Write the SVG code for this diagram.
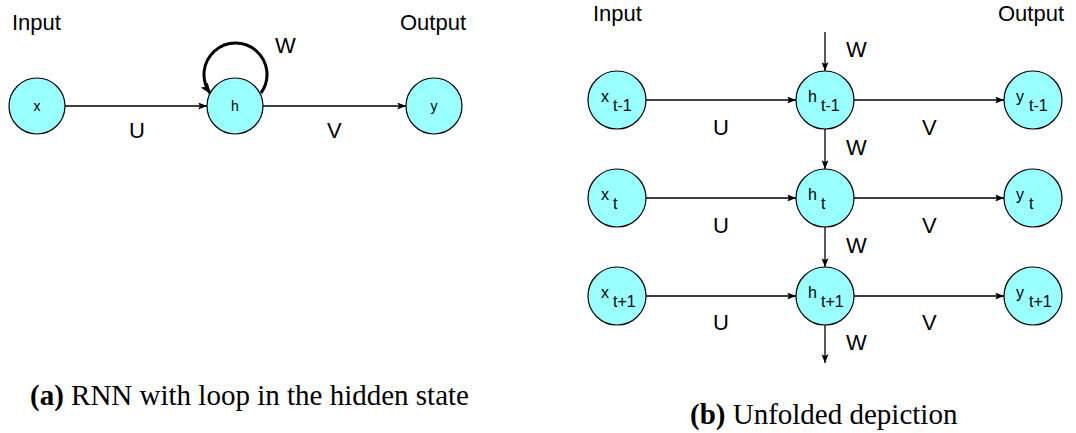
<svg xmlns="http://www.w3.org/2000/svg" width="1076" height="433" viewBox="0 0 1076 433">
<style>
.node{fill:#99ffff;stroke:#000;stroke-width:1.2}
.lbl{font-family:"Liberation Sans",Arial,sans-serif;font-size:22px;fill:#000}
.nl{font-family:"Liberation Sans",Arial,sans-serif;font-size:14px;fill:#000}
.ns{font-family:"Liberation Sans",Arial,sans-serif;font-size:16px;fill:#000}
.edge{stroke:#000;stroke-width:1.3;fill:none;marker-end:url(#ah)}
.cap{font-family:"Liberation Serif","Times New Roman",serif;font-size:29px;fill:#000}
</style>
<defs>
<marker id="ah" viewBox="0 0 10 8" refX="10" refY="4" markerWidth="9" markerHeight="7" markerUnits="userSpaceOnUse" orient="auto">
<path d="M0,0 L10,4 L0,8 L2,4 Z" fill="#000"/>
</marker>
<marker id="ahb" viewBox="0 0 10 8" refX="9" refY="4" markerWidth="11" markerHeight="9" markerUnits="userSpaceOnUse" orient="auto">
<path d="M0,0 L10,4 L0,8 L2,4 Z" fill="#000"/>
</marker>
</defs>

<!-- Left diagram -->
<g id="connectors-a">
<line class="edge" x1="65" y1="106" x2="207" y2="106"/>
<line class="edge" x1="263" y1="106" x2="406" y2="106"/>
<path d="M261,93 A31.5,31.5 0 1 0 210,93" fill="none" stroke="#000" stroke-width="3" marker-end="url(#ahb)"/>
</g>
<g id="node-x"><circle class="node" cx="37" cy="106" r="28"/><text class="nl" x="37" y="111" text-anchor="middle">x</text></g>
<g id="node-h"><circle class="node" cx="235" cy="106" r="28"/><text class="nl" x="235" y="111" text-anchor="middle">h</text></g>
<g id="node-y"><circle class="node" cx="434" cy="106" r="28"/><text class="nl" x="434" y="111" text-anchor="middle">y</text></g>
<g id="labels-a">
<text class="lbl" x="12" y="30">Input</text>
<text class="lbl" x="400" y="30">Output</text>
<text class="lbl" x="275" y="53">W</text>
<text class="lbl" x="129" y="138">U</text>
<text class="lbl" x="327" y="138">V</text>
</g>

<!-- Right diagram -->
<g id="connectors-b">
<line class="edge" x1="825" y1="32" x2="825" y2="71"/>
<line class="edge" x1="825" y1="129" x2="825" y2="169"/>
<line class="edge" x1="825" y1="227" x2="825" y2="267"/>
<line class="edge" x1="825" y1="325" x2="825" y2="363"/>
<line class="edge" x1="646" y1="100" x2="796" y2="100"/>
<line class="edge" x1="854" y1="100" x2="1004" y2="100"/>
<line class="edge" x1="646" y1="198" x2="796" y2="198"/>
<line class="edge" x1="854" y1="198" x2="1004" y2="198"/>
<line class="edge" x1="646" y1="296" x2="796" y2="296"/>
<line class="edge" x1="854" y1="296" x2="1004" y2="296"/>
</g>
<g id="node-x-t-1"><circle class="node" cx="617" cy="100" r="29"/><text class="ns" x="601" y="102">x</text><text class="ns" x="613" y="111">t-1</text></g>
<g id="node-h-t-1"><circle class="node" cx="825" cy="100" r="29"/><text class="ns" x="808" y="102">h</text><text class="ns" x="821" y="111">t-1</text></g>
<g id="node-y-t-1"><circle class="node" cx="1033" cy="100" r="29"/><text class="ns" x="1016" y="102">y</text><text class="ns" x="1029" y="111">t-1</text></g>
<g id="node-x-t"><circle class="node" cx="617" cy="198" r="29"/><text class="ns" x="601" y="200">x</text><text class="ns" x="613" y="209">t</text></g>
<g id="node-h-t"><circle class="node" cx="825" cy="198" r="29"/><text class="ns" x="808" y="200">h</text><text class="ns" x="821" y="209">t</text></g>
<g id="node-y-t"><circle class="node" cx="1033" cy="198" r="29"/><text class="ns" x="1016" y="200">y</text><text class="ns" x="1029" y="209">t</text></g>
<g id="node-x-t+1"><circle class="node" cx="617" cy="296" r="29"/><text class="ns" x="601" y="298">x</text><text class="ns" x="613" y="307">t+1</text></g>
<g id="node-h-t+1"><circle class="node" cx="825" cy="296" r="29"/><text class="ns" x="808" y="298">h</text><text class="ns" x="821" y="307">t+1</text></g>
<g id="node-y-t+1"><circle class="node" cx="1033" cy="296" r="29"/><text class="ns" x="1016" y="298">y</text><text class="ns" x="1029" y="307">t+1</text></g>
<g id="labels-b">
<text class="lbl" x="593" y="21">Input</text>
<text class="lbl" x="998" y="21">Output</text>
<text class="lbl" x="846" y="57">W</text>
<text class="lbl" x="846" y="155">W</text>
<text class="lbl" x="846" y="253">W</text>
<text class="lbl" x="846" y="350">W</text>
<text class="lbl" x="713" y="135">U</text>
<text class="lbl" x="922" y="135">V</text>
<text class="lbl" x="713" y="233">U</text>
<text class="lbl" x="922" y="233">V</text>
<text class="lbl" x="713" y="330">U</text>
<text class="lbl" x="922" y="330">V</text>
</g>

<g id="captions">
<text class="cap" x="30" y="405"><tspan font-weight="bold">(a)</tspan> RNN with loop in the hidden state</text>
<text class="cap" x="690" y="424"><tspan font-weight="bold">(b)</tspan> Unfolded depiction</text>
</g>
</svg>
